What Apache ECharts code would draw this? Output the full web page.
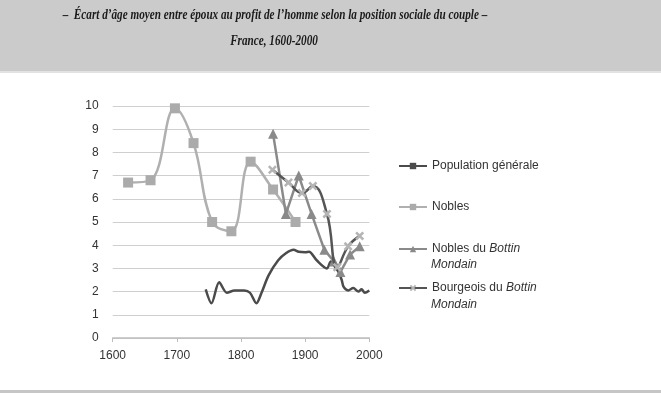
<!DOCTYPE html>
<html><head><meta charset="utf-8">
<script src="https://cdn.jsdelivr.net/npm/echarts@6/dist/echarts.min.js"></script>
<style>html,body{margin:0;padding:0;background:#fff}#c{width:661px;height:393px}</style>
</head><body><div id="c"></div>
<script>
const titleLine1 = "–  Écart d’âge moyen entre époux au profit de l’homme selon la position sociale du couple –";
const titleLine2 = "France, 1600-2000";
const seriesNames = ["Population générale", "Nobles", "Nobles du Bottin Mondain", "Bourgeois du Bottin Mondain"];
const xTicks = [1600, 1700, 1800, 1900, 2000];
const yTicks = [0,1,2,3,4,5,6,7,8,9,10];
const population = [[1745,2.1],[1754,1.5],[1766,2.4],[1778,1.95],[1790,2.05],[1805,2.05],[1814,1.95],[1824,1.5],[1832,1.95],[1843,2.7],[1858,3.35],[1870,3.65],[1882,3.8],[1890,3.72],[1900,3.7],[1906,3.72],[1918,3.35],[1934,3.0],[1940,3.3],[1947,3.05],[1952,2.85],[1957,2.5],[1960,2.2],[1967,2.05],[1975,2.15],[1983,2.0],[1988,2.1],[1993,1.95],[2000,2.05]];
const nobles = [[1624,6.7],[1659,6.8],[1697,9.9],[1726,8.4],[1755,5.0],[1785,4.6],[1815,7.6],[1850,6.4],[1885,5.0]];
const noblesBM = [[1850,8.8],[1870,5.35],[1890,7.0],[1910,5.35],[1930,3.8],[1945,3.3],[1955,2.85],[1970,3.6],[1985,3.95]];
const bourgeoisBM = [[1849,7.25],[1874,6.7],[1895,6.25],[1912,6.55],[1934,5.35],[1950,3.05],[1967,3.95],[1985,4.4]];

const chart = echarts.init(document.getElementById('c'), null, {renderer:'canvas'});
const crossPath = 'path://M2,0L5,3L8,0L10,2L7,5L10,8L8,10L5,7L2,10L0,8L3,5L0,2Z';
const tickPath = 'path://M4,0L6,0L6,10L4,10Z';
const legendText = {fontFamily:'Liberation Sans, Arial, sans-serif', fontSize:12, color:'#333',
  rich:{n:{fontFamily:'Liberation Sans, Arial, sans-serif',fontSize:12,color:'#333'},
        i:{fontFamily:'Liberation Sans, Arial, sans-serif',fontSize:12,color:'#333',fontStyle:'italic'}}};
function fmt(name){
  if (name === seriesNames[2]) return '{n|Nobles du }{i|Bottin}';
  if (name === seriesNames[3]) return '{n|Bourgeois du }{i|Bottin}';
  return '{n|' + name + '}';
}
const legendTops = [160, 201, 243, 282];
const legends = seriesNames.map((n,i)=>({
  data:[n], orient:'vertical', left:398, top:legendTops[i], itemWidth:28, itemHeight:8, itemGap:0,
  formatter: fmt, textStyle: legendText, padding:0, selectedMode:false
}));

chart.setOption({
  animation:false,
  backgroundColor:'#ffffff',
  graphic:[
    {type:'rect', left:0, top:0, shape:{width:661, height:71}, style:{fill:'#cbcbcb'}, z:-10},
    {type:'rect', left:0, top:71, shape:{width:661, height:2}, style:{fill:'#e2e2e2'}, z:-10},
    {type:'rect', left:0, top:390, shape:{width:661, height:3}, style:{fill:'#c6c6c6'}, z:-10},
    {type:'text', x:275, y:15, scaleX:0.8, style:{text:titleLine1, fill:'#1a1a1a', font:'italic bold 14px "Liberation Serif", serif', textAlign:'center', textVerticalAlign:'middle'}},
    {type:'text', x:274, y:41, scaleX:0.8, style:{text:titleLine2, fill:'#1a1a1a', font:'italic bold 14px "Liberation Serif", serif', textAlign:'center', textVerticalAlign:'middle'}},
    {type:'text', x:431, y:265, style:{text:'Mondain', fill:'#333', font:'italic 12px "Liberation Sans", Arial, sans-serif', textVerticalAlign:'middle'}},
    {type:'text', x:431, y:305, style:{text:'Mondain', fill:'#333', font:'italic 12px "Liberation Sans", Arial, sans-serif', textVerticalAlign:'middle'}}
  ],
  legend: legends,
  grid:{left:112.7, right:291.7, top:106, bottom:55},
  xAxis:{type:'value', min:xTicks[0], max:xTicks[xTicks.length-1], interval:100,
    axisLine:{show:true, onZero:false, lineStyle:{color:'#bdbdbd', width:1.5}},
    axisTick:{show:true, length:4, lineStyle:{color:'#bdbdbd'}},
    splitLine:{show:false},
    axisLabel:{color:'#333', fontFamily:'Liberation Sans, Arial, sans-serif', fontSize:12, margin:12, formatter:(v)=>String(v)}},
  yAxis:{type:'value', min:yTicks[0], max:yTicks[yTicks.length-1], interval:1,
    axisLine:{show:false}, axisTick:{show:false},
    splitLine:{lineStyle:{color:'#cfcfcf', width:1}},
    axisLabel:{color:'#333', fontFamily:'Liberation Sans, Arial, sans-serif', fontSize:12, margin:14}},
  series:[
    {name:seriesNames[1], type:'line', data:nobles, smooth:0.4, symbol:'rect', symbolSize:10, z:2,
      lineStyle:{color:'#b0b0b0', width:2.5}, itemStyle:{color:'#ababab'}},
    {name:seriesNames[0], type:'line', data:population, smooth:0.3, symbol:tickPath, symbolSize:[3,6], showSymbol:false, z:3,
      lineStyle:{color:'#4b4b4b', width:2.5}, itemStyle:{color:'#4b4b4b'}},
    {name:seriesNames[2], type:'line', data:noblesBM, smooth:false, symbol:'triangle', symbolSize:10, z:4,
      lineStyle:{color:'#8a8a8a', width:2.5}, itemStyle:{color:'#8a8a8a'}},
    {name:seriesNames[3], type:'line', data:bourgeoisBM, smooth:0.45, symbol:crossPath, symbolSize:9, z:5,
      lineStyle:{color:'#555555', width:2.5}, itemStyle:{color:'#b5b5b5'}}
  ]
});
</script></body></html>
